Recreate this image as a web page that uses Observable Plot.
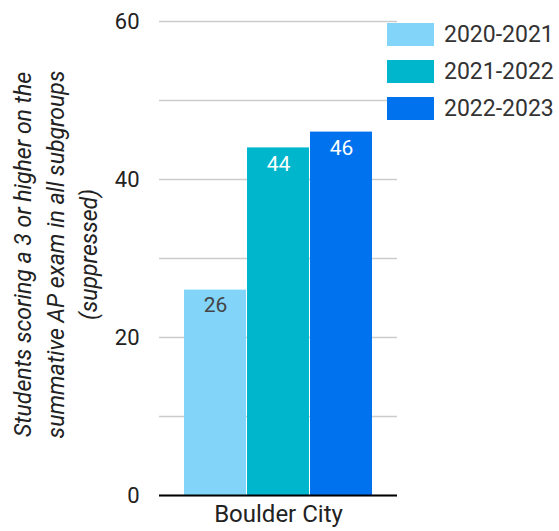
<!DOCTYPE html>
<html>
<head>
<meta charset="utf-8">
<script src="https://cdn.jsdelivr.net/npm/d3@7"></script>
<script src="https://cdn.jsdelivr.net/npm/@observablehq/plot@0.6"></script>
<style>
  html, body { margin: 0; padding: 0; background: #fff; }
  #wrap { position: relative; width: 559px; height: 531px; font-family: Roboto, sans-serif; }
  #legend { position: absolute; left: 387px; top: 23px; }
  .row { display: flex; align-items: center; height: 23px; margin-bottom: 14px; }
  .sw { width: 47px; height: 23px; margin-right: 10px; }
  .lab { font-size: 23px; color: #333; line-height: 23px; }
</style>
</head>
<body>
<div id="wrap"><div id="chart"></div><div id="legend"></div></div>
<script>
const city = "Boulder City";
const years = ["2020-2021", "2021-2022", "2022-2023"];
const values = [26, 44, 46];
const colors = ["#83d4f9", "#00b6cc", "#0072ee"];
const yTicks = [0, 20, 40, 60];
const gridTicks = [0, 10, 20, 30, 40, 50, 60];
const yTitle = "Students scoring a 3 or higher on the\nsummative AP exam in all subgroups\n(suppressed)";

const data = years.map((y, i) => ({city, year: y, value: values[i]}));

const chart = Plot.plot({
  width: 559,
  height: 531,
  marginLeft: 159,
  marginRight: 162,
  marginTop: 21,
  marginBottom: 36,
  style: {fontFamily: "Roboto, sans-serif", fontSize: "20px", color: "#222", background: "#fff"},
  fx: {padding: 0, label: null},
  x: {domain: years, paddingInner: 0.02, paddingOuter: 0.38, axis: null},
  y: {domain: [0, 60]},
  color: {domain: years, range: colors},
  marks: [
    Plot.gridY(gridTicks, {stroke: "#cccccc", strokeOpacity: 1, strokeWidth: 1.5}),
    Plot.axisY(yTicks, {tickSize: 0, tickPadding: 20, label: null, fontSize: 22, fill: "#222"}),
    Plot.barY(data, {fx: "city", x: "year", y: "value", fill: "year"}),
    Plot.ruleY([0], {stroke: "#000", strokeWidth: 2}),
    Plot.text(data.filter(d => d.value < 30), {fx: "city", x: "year", y: "value", text: d => String(d.value), dy: 15, fill: "#444", fontSize: 21}),
    Plot.text(data.filter(d => d.value >= 30), {fx: "city", x: "year", y: "value", text: d => String(d.value), dy: 16, fill: "#fff", fontSize: 21}),
    Plot.axisFx({anchor: "bottom", tickSize: 0, tickPadding: 9, label: null, fontSize: 24, fill: "#222"}),
    Plot.text([yTitle], {frameAnchor: "left", dx: -106, dy: -4, rotate: -90, textAnchor: "middle", lineAnchor: "middle", lineHeight: 1.43, fontStyle: "italic", fontSize: 23, fill: "#222"})
  ]
});
document.getElementById("chart").appendChild(chart);

const legend = document.getElementById("legend");
years.forEach((y, i) => {
  const row = document.createElement("div");
  row.className = "row";
  const sw = document.createElement("div");
  sw.className = "sw";
  sw.style.background = colors[i];
  const lab = document.createElement("span");
  lab.className = "lab";
  lab.textContent = y;
  row.appendChild(sw);
  row.appendChild(lab);
  legend.appendChild(row);
});
</script>
</body>
</html>
